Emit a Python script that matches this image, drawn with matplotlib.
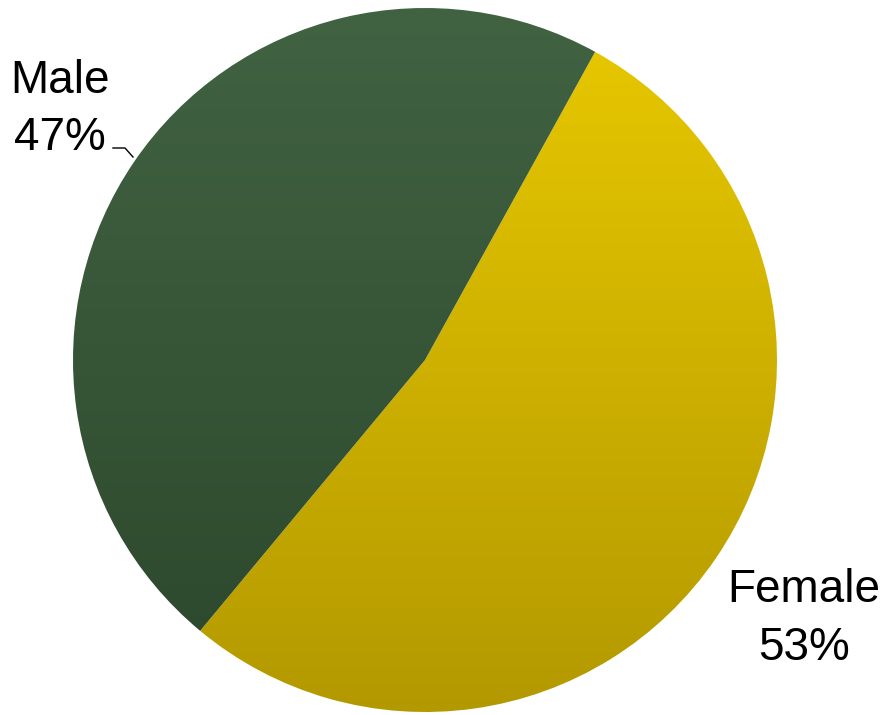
import numpy as np
import matplotlib
matplotlib.use("Agg")
import matplotlib.pyplot as plt
from matplotlib.colors import LinearSegmentedColormap

labels = ["Female", "Male"]
values = [53, 47]
pct_labels = ["53%", "47%"]
top_colors = ["#e9c900", "#416342"]
bottom_colors = ["#b39900", "#2c472c"]

W, H = 883, 715
fig = plt.figure(figsize=(W / 100, H / 100), dpi=100)
ax = fig.add_axes([0, 0, 1, 1])

cx, cy, r = 425, H - 360, 352
wedges, _ = ax.pie(values, startangle=61.1, counterclock=False,
                   center=(cx, cy), radius=r, frame=True,
                   wedgeprops=dict(linewidth=0, edgecolor="none"))
ax.set_xlim(0, W)
ax.set_ylim(0, H)
ax.axis("off")

grad = np.linspace(1, 0, 256).reshape(-1, 1)
for w, ct, cb in zip(wedges, top_colors, bottom_colors):
    w.set_facecolor("none")
    cmap = LinearSegmentedColormap.from_list("g", [cb, ct])
    im = ax.imshow(grad, cmap=cmap, aspect="auto",
                   extent=(cx - r, cx + r, cy - r, cy + r), origin="upper",
                   zorder=1)
    im.set_clip_path(w)

font = dict(family="Liberation Sans", size=33, color="black")
ax.text(804, H - 602, labels[0], ha="center", va="baseline", **font)
ax.text(804, H - 660, pct_labels[0], ha="center", va="baseline", **font)
ax.text(60, H - 93, labels[1], ha="center", va="baseline", **font)
ax.text(60, H - 150, pct_labels[1], ha="center", va="baseline", **font)
ax.plot([113, 125, 133], [H - 148, H - 148, H - 157], color="black", lw=1)

fig.savefig("out.png", dpi=100)
